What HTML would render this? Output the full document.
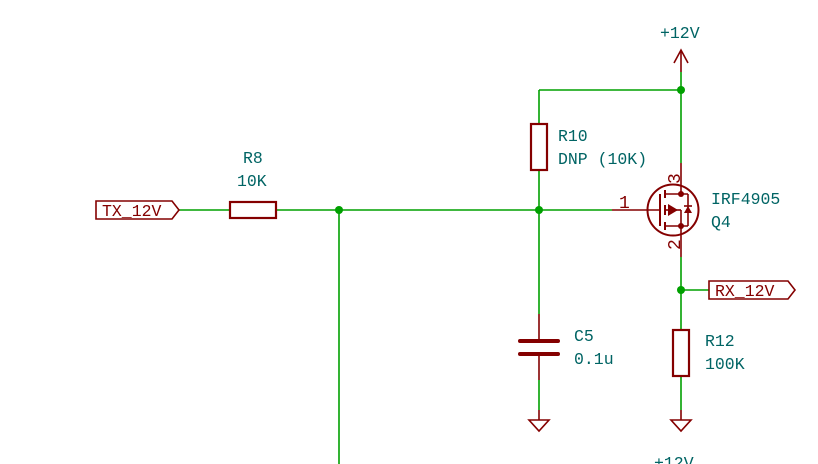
<!DOCTYPE html>
<html><head><style>html,body{margin:0;padding:0;background:#fff}svg{display:block}text{font-family:"Liberation Mono",monospace;font-size:16.5px;fill:#006464}</style></head>
<body>
<svg width="818" height="464" viewBox="0 0 818 464" xmlns="http://www.w3.org/2000/svg">
<g stroke="#00a000" stroke-width="1.6" fill="none">
<line x1="178" y1="210" x2="230" y2="210"/>
<line x1="276" y1="210" x2="612" y2="210"/>
<line x1="339" y1="210" x2="339" y2="464"/>
<line x1="539" y1="90" x2="681" y2="90"/>
<line x1="539" y1="90" x2="539" y2="124"/>
<line x1="539" y1="170" x2="539" y2="210"/>
<line x1="539" y1="210" x2="539" y2="314"/>
<line x1="539" y1="380" x2="539" y2="410"/>
<line x1="681" y1="72" x2="681" y2="163"/>
<line x1="681" y1="257" x2="681" y2="329"/>
<line x1="681" y1="290" x2="709" y2="290"/>
<line x1="681" y1="376" x2="681" y2="410"/>
</g>
<g fill="#00a000"><circle cx="339" cy="210" r="4"/><circle cx="539" cy="210" r="4"/><circle cx="681" cy="90" r="4"/><circle cx="681" cy="290" r="4"/></g>
<g stroke="#840000" stroke-width="1.6" fill="none">
<polygon points="96,201 172,201 179,210 172,219 96,219"/>
<rect x="230" y="202" width="46" height="16" stroke-width="2.2"/>
<rect x="531" y="124" width="16" height="46" stroke-width="2.2"/>
<rect x="673" y="330" width="16" height="46" stroke-width="2.2"/>
<polygon points="709,281 788,281 795,290 788,299 709,299"/>
<line x1="681" y1="50" x2="681" y2="72"/>
<polyline points="674,63 681,50 688,63"/>
<line x1="539" y1="314" x2="539" y2="341"/>
<line x1="539" y1="354" x2="539" y2="380"/>
<line x1="520" y1="341" x2="558" y2="341" stroke-width="4" stroke-linecap="round"/>
<line x1="520" y1="354" x2="558" y2="354" stroke-width="4" stroke-linecap="round"/>
<line x1="539" y1="410" x2="539" y2="420"/>
<polygon points="529,420 549,420 539,431"/>
<line x1="681" y1="410" x2="681" y2="420"/>
<polygon points="671,420 691,420 681,431"/>
<line x1="612" y1="210" x2="659" y2="210"/>
<circle cx="673" cy="210" r="25.5" stroke-width="2"/>
<line x1="660" y1="194" x2="660" y2="226" stroke-width="2"/>
<line x1="665" y1="190" x2="665" y2="198" stroke-width="2"/>
<line x1="665" y1="205" x2="665" y2="215" stroke-width="2"/>
<line x1="665" y1="222" x2="665" y2="230" stroke-width="2"/>
<line x1="665" y1="194" x2="688" y2="194"/>
<line x1="665" y1="226" x2="688" y2="226"/>
<line x1="665" y1="210" x2="681" y2="210"/>
<line x1="681" y1="163" x2="681" y2="194"/>
<line x1="681" y1="210" x2="681" y2="257"/>
<line x1="688" y1="194" x2="688" y2="226"/>
<line x1="684" y1="206" x2="692" y2="206"/>
</g>
<g fill="#840000">
<polygon points="668,204 668,216 678,210"/>
<polygon points="684,213 692,213 688,206"/>
<circle cx="681" cy="194" r="3"/><circle cx="681" cy="226" r="3"/>
</g>
<g>
<text x="102" y="216" style="fill:#840000">TX_12V</text>
<text x="715" y="296" style="fill:#840000">RX_12V</text>
<text x="619" y="208" style="fill:#840000;font-size:18px">1</text>
<text transform="translate(680,184) rotate(-90)" style="fill:#840000;font-size:18px">3</text>
<text transform="translate(680,250) rotate(-90)" style="fill:#840000;font-size:18px">2</text>
</g>
<text x="660" y="38">+12V</text>
<text x="558" y="141">R10</text>
<text x="558" y="164">DNP (10K)</text>
<text x="243" y="163">R8</text>
<text x="237" y="186">10K</text>
<text x="711" y="204">IRF4905</text>
<text x="711" y="227">Q4</text>
<text x="574" y="341">C5</text>
<text x="574" y="364">0.1u</text>
<text x="705" y="346">R12</text>
<text x="705" y="369">100K</text>
<text x="654" y="468">+12V</text>
</svg>
</body></html>
